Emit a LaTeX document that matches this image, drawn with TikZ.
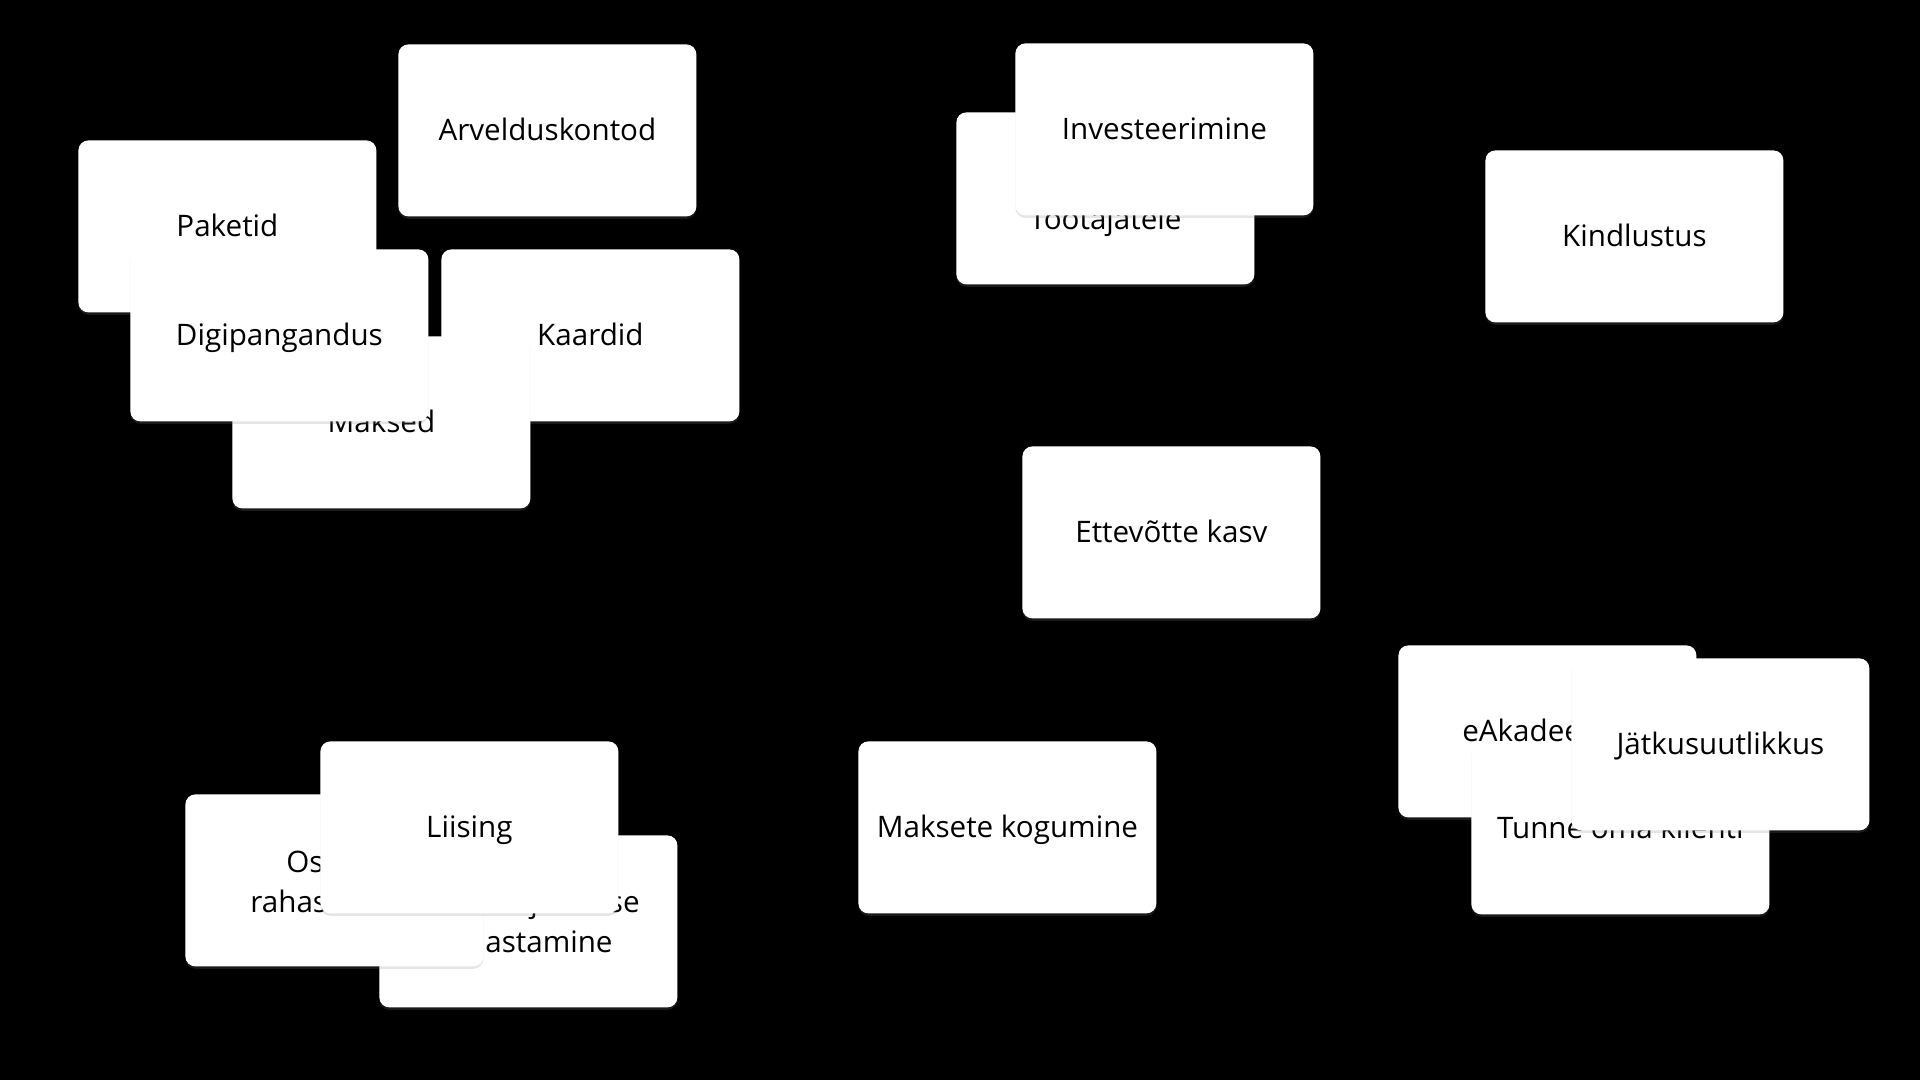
\documentclass[tikz,border=0pt]{standalone}
\usepackage{fontspec}
\setmainfont{Open Sans}
\usetikzlibrary{shadows}
\begin{document}
\begin{tikzpicture}[x=0.5pt,y=-0.5pt,
  cardtext/.style={font=\fontsize{14.8}{20}\selectfont},
  card/.style={fill=white, rounded corners=5pt, minimum width=149pt, minimum height=86pt,
    inner sep=0pt, anchor=north west, align=center, cardtext,
    text height=10pt, text depth=0pt,
    drop shadow={opacity=0.2, shadow xshift=0pt, shadow yshift=-1.2pt}},
  lbl/.style={inner sep=0pt, cardtext}]
\fill[black] (0,0) rectangle (1920,1080);
\useasboundingbox (0,0) rectangle (1920,1080);
% top-left group
\node[card] (paketid) at (78,140) {Paketid};
\node[card] (arveldus) at (398,44) {Arvelduskontod};
\node[card] (kaardid) at (441,249) {Kaardid};
\node[card] (maksed) at (232,336) {Maksed};
\node[card] (digi) at (130,249) {Digipangandus};
% top-middle group
\node[card] (tootajad) at (956,112) {};
\node[lbl, anchor=base] (tootajadtxt) at (1105.5,230) {Töötajatele};
\node[card] (invest) at (1015,43) {Investeerimine};
% right
\node[card] (kindlustus) at (1485,150) {Kindlustus};
\node[card] (kasv) at (1022,446) {Ettevõtte kasv};
% bottom-left group
\node[card] (pollu) at (379,835) {};
\node[lbl, anchor=base east] (pollu1) at (640,912) {Põllumajanduse};
\node[lbl, anchor=base east] (pollu2) at (613,952) {rahastamine};
\node[card] (osa) at (185,794) {};
\node[lbl, anchor=base west] (osa1) at (286,872) {Ostude};
\node[lbl, anchor=base west] (osa2) at (250,912) {rahastamine};
\node[card] (liising) at (320,741) {Liising};
% bottom-middle
\node[card] (kogumine) at (858,741) {Maksete kogumine};
% bottom-right group
\node[card] (eakad) at (1398,645) {eAkadeemia};
\node[card] (tunne) at (1471,742) {Tunne oma klienti};
\node[card] (jatk) at (1571,658) {Jätkusuutlikkus};
\end{tikzpicture}
\end{document}
